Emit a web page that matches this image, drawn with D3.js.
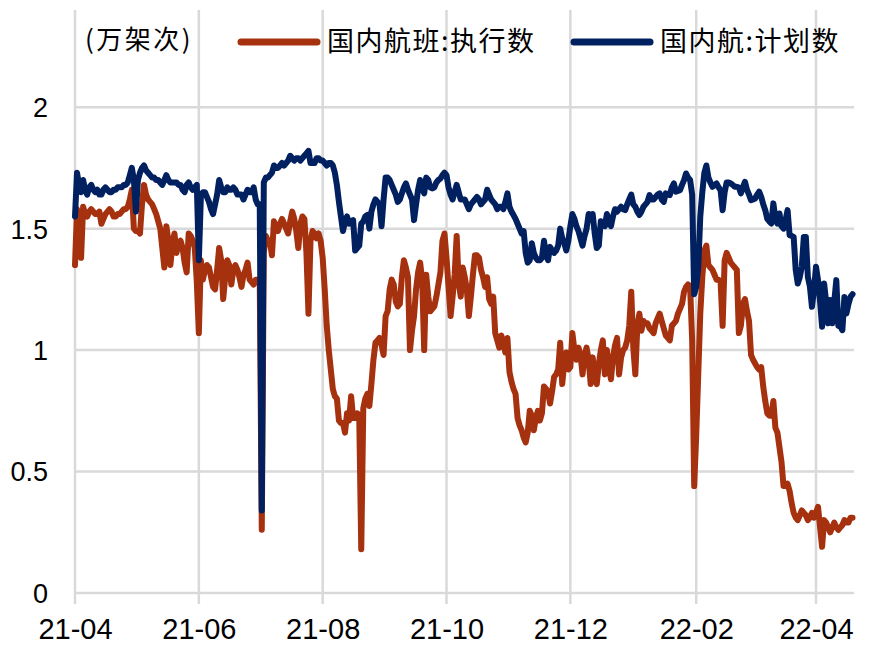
<!DOCTYPE html>
<html>
<head>
<meta charset="utf-8">
<script src="https://cdn.jsdelivr.net/npm/d3@7"></script>
<style>
  html, body { margin: 0; padding: 0; background: #fff; }
  svg { display: block; }
</style>
</head>
<body>
<svg id="chart" width="877" height="659"></svg>
<script>
// ---- data (daily, starting 2021-04-01) ----
const startDate = "2021-04-01";
const seriesNames = ["国内航班:执行数", "国内航:计划数"];
const unitLabel = "(万架次)";
const yTicks = [0, 0.5, 1, 1.5, 2];
const xTickDates = ["2021-04-01", "2021-06-01", "2021-08-01", "2021-10-01", "2021-12-01", "2022-02-01", "2022-04-01"];
const xTickLabels = ["21-04", "21-06", "21-08", "21-10", "21-12", "22-02", "22-04"];

// 国内航班:执行数
const executed = [
  1.35,1.58,1.55,1.38,1.59,1.56,1.55,1.57,1.58,1.57,
  1.56,1.56,1.57,1.52,1.54,1.56,1.57,1.58,1.57,1.55,
  1.55,1.56,1.56,1.57,1.58,1.58,1.59,1.62,1.66,1.50,
  1.49,1.49,1.48,1.60,1.68,1.64,1.62,1.61,1.60,1.58,
  1.56,1.53,1.50,1.42,1.34,1.51,1.45,1.35,1.44,1.48,
  1.40,1.44,1.45,1.42,1.36,1.32,1.48,1.47,1.45,1.42,
  1.28,1.07,1.37,1.29,1.33,1.35,1.34,1.30,1.26,1.25,
  1.33,1.42,1.37,1.21,1.30,1.37,1.35,1.27,1.33,1.35,
  1.33,1.30,1.26,1.31,1.33,1.36,1.29,1.28,1.27,1.29,
  1.29,1.28,0.26,1.40,1.47,1.45,1.45,1.39,1.53,1.51,
  1.49,1.52,1.54,1.52,1.50,1.48,1.53,1.57,1.54,1.49,
  1.42,1.52,1.55,1.54,1.40,1.15,1.45,1.49,1.48,1.46,
  1.48,1.45,1.38,1.25,1.10,1.00,0.92,0.84,0.81,0.80,
  0.71,0.70,0.70,0.66,0.74,0.71,0.81,0.72,0.72,0.74,
  0.73,0.18,0.76,0.80,0.82,0.77,0.86,0.96,1.03,1.04,
  1.05,1.02,0.98,1.14,1.16,1.25,1.29,1.27,1.20,1.18,
  1.19,1.30,1.37,1.34,1.30,1.00,1.08,1.14,1.25,1.32,
  1.36,1.29,1.00,1.31,1.22,1.16,1.17,1.18,1.22,1.27,
  1.32,1.45,1.48,1.38,1.26,1.14,1.22,1.31,1.47,1.28,
  1.22,1.34,1.30,1.25,1.14,1.22,1.31,1.39,1.39,1.38,
  1.33,1.30,1.26,1.30,1.21,1.19,1.22,1.07,1.04,1.01,
  1.06,1.03,0.99,1.05,0.91,0.87,0.84,0.82,0.72,0.69,
  0.67,0.64,0.62,0.66,0.75,0.73,0.67,0.72,0.75,0.71,
  0.74,0.85,0.84,0.83,0.78,0.83,0.89,0.90,0.92,1.03,
  0.86,0.95,0.99,0.92,0.93,1.07,1.00,0.96,1.01,0.98,
  0.90,0.98,1.01,0.96,0.86,0.97,0.90,0.86,0.94,1.00,
  1.04,0.90,1.00,0.93,0.88,0.97,1.02,1.05,0.90,0.97,
  1.00,1.01,1.04,1.10,1.24,1.01,0.90,1.10,1.15,1.08,
  1.12,1.11,1.11,1.09,1.08,1.07,1.11,1.13,1.15,1.12,
  1.09,1.06,1.05,1.04,1.10,1.11,1.12,1.15,1.17,1.19,
  1.24,1.26,1.27,1.26,1.04,0.44,0.65,0.90,1.15,1.30,
  1.41,1.43,1.35,1.34,1.33,1.31,1.29,1.29,1.28,1.10,
  1.37,1.40,1.38,1.36,1.35,1.34,1.33,1.07,1.10,1.19,
  1.21,1.16,1.12,0.98,0.96,0.945,0.93,0.92,0.93,0.85,
  0.79,0.74,0.73,0.73,0.79,0.68,0.66,0.60,0.54,0.44,
  0.44,0.45,0.42,0.37,0.33,0.31,0.30,0.32,0.34,0.33,
  0.32,0.30,0.31,0.33,0.31,0.33,0.355,0.27,0.19,0.30,
  0.29,0.27,0.25,0.27,0.29,0.27,0.26,0.27,0.28,0.30,
  0.29,0.29,0.31,0.31
];

// 国内航:计划数
const planned = [
  1.55,1.73,1.68,1.65,1.70,1.66,1.64,1.67,1.68,1.66,
  1.65,1.66,1.64,1.64,1.66,1.67,1.66,1.65,1.65,1.66,
  1.66,1.67,1.67,1.67,1.68,1.68,1.69,1.72,1.75,1.70,
  1.57,1.70,1.73,1.75,1.76,1.74,1.73,1.72,1.71,1.71,
  1.70,1.70,1.69,1.68,1.70,1.72,1.70,1.69,1.69,1.69,
  1.69,1.68,1.68,1.66,1.65,1.68,1.69,1.67,1.66,1.67,
  1.68,1.37,1.63,1.65,1.65,1.63,1.61,1.58,1.56,1.60,
  1.64,1.70,1.67,1.65,1.65,1.67,1.66,1.66,1.67,1.66,
  1.64,1.64,1.64,1.62,1.64,1.66,1.65,1.65,1.67,1.62,
  1.60,1.60,0.34,1.69,1.71,1.71,1.72,1.73,1.76,1.75,
  1.75,1.76,1.77,1.76,1.77,1.78,1.80,1.79,1.78,1.79,
  1.79,1.78,1.79,1.80,1.81,1.82,1.77,1.77,1.77,1.79,
  1.79,1.78,1.78,1.77,1.76,1.77,1.77,1.76,1.73,1.68,
  1.61,1.55,1.49,1.53,1.55,1.52,1.53,1.535,1.41,1.42,
  1.43,1.52,1.53,1.55,1.556,1.50,1.57,1.60,1.62,1.61,
  1.60,1.51,1.62,1.71,1.71,1.70,1.68,1.66,1.64,1.61,
  1.62,1.645,1.67,1.686,1.66,1.64,1.62,1.535,1.60,1.66,
  1.70,1.67,1.645,1.71,1.70,1.67,1.665,1.67,1.69,1.70,
  1.706,1.72,1.73,1.72,1.67,1.64,1.62,1.65,1.68,1.65,
  1.62,1.62,1.62,1.60,1.58,1.60,1.61,1.62,1.63,1.62,
  1.60,1.61,1.62,1.66,1.64,1.62,1.61,1.60,1.58,1.59,
  1.59,1.58,1.61,1.645,1.59,1.57,1.556,1.54,1.52,1.50,
  1.48,1.49,1.40,1.36,1.37,1.44,1.40,1.38,1.37,1.37,
  1.38,1.45,1.39,1.37,1.425,1.41,1.40,1.41,1.43,1.50,
  1.46,1.44,1.41,1.45,1.51,1.56,1.54,1.51,1.49,1.46,
  1.43,1.47,1.50,1.56,1.556,1.56,1.48,1.42,1.43,1.53,
  1.52,1.51,1.56,1.53,1.51,1.55,1.58,1.57,1.58,1.59,
  1.58,1.576,1.60,1.62,1.64,1.60,1.59,1.57,1.556,1.57,
  1.59,1.60,1.61,1.638,1.62,1.62,1.63,1.64,1.645,1.62,
  1.61,1.645,1.64,1.638,1.67,1.686,1.652,1.655,1.658,1.68,
  1.70,1.727,1.71,1.70,1.64,1.23,1.26,1.34,1.55,1.65,
  1.73,1.76,1.71,1.69,1.672,1.68,1.686,1.67,1.658,1.576,
  1.65,1.69,1.69,1.686,1.68,1.672,1.672,1.67,1.645,1.67,
  1.693,1.66,1.64,1.617,1.62,1.624,1.64,1.652,1.631,1.60,
  1.576,1.54,1.53,1.521,1.604,1.54,1.521,1.562,1.51,1.50,
  1.535,1.576,1.473,1.47,1.466,1.33,1.274,1.30,1.343,1.466,
  1.466,1.30,1.261,1.178,1.247,1.343,1.288,1.20,1.096,1.274,
  1.20,1.11,1.206,1.11,1.20,1.288,1.10,1.096,1.082,1.219,
  1.151,1.19,1.219,1.23
];

const seriesColors = ["#A6310F", "#002060"];

// ---- chart ----
const svg = d3.select("#chart");
const parse = d3.timeParse("%Y-%m-%d");
const t0 = parse(startDate);
const dates = executed.map((_, i) => d3.timeDay.offset(t0, i));

const x = d3.scaleTime()
  .domain([parse("2021-04-01"), parse("2022-04-01")])
  .range([75, 816]);
const y = d3.scaleLinear().domain([0, 2.4]).range([593, 10]);

const gridColor = "#d9d9d9";
const plotRight = 854;

// horizontal gridlines
svg.append("g").selectAll("line").data(yTicks).join("line")
  .attr("x1", 75).attr("x2", plotRight)
  .attr("y1", d => y(d)).attr("y2", d => y(d))
  .attr("stroke", gridColor).attr("stroke-width", 2.5);

// vertical gridlines (x ticks)
const tickDates = xTickDates.map(parse);
svg.append("g").selectAll("line").data(tickDates).join("line")
  .attr("x1", d => x(d)).attr("x2", d => x(d))
  .attr("y1", 10).attr("y2", 604)
  .attr("stroke", gridColor).attr("stroke-width", 2.5);

// y-axis labels
const yAxis = d3.axisLeft(y).tickValues(yTicks).tickSize(0).tickPadding(0)
  .tickFormat(d => d3.format("")(d));
const gy = svg.append("g").attr("transform", "translate(48,0)").call(yAxis);
gy.select(".domain").remove();
gy.selectAll("text")
  .attr("font-family", "'Liberation Sans', Arial, sans-serif")
  .attr("font-size", 27).attr("fill", "#000").attr("dy", "0.35em");

// x-axis labels
const xAxis = d3.axisBottom(x).tickValues(tickDates).tickSize(0).tickPadding(0)
  .tickFormat((d, i) => xTickLabels[i]);
const gx = svg.append("g").attr("transform", "translate(0,639)").call(xAxis);
gx.select(".domain").remove();
gx.selectAll("text")
  .attr("font-family", "'Liberation Sans', Arial, sans-serif")
  .attr("font-size", 29).attr("fill", "#000").attr("dy", 0);

// series lines
const line = d3.line().x((d, i) => x(dates[i])).y(d => y(d));
[executed, planned].forEach((vals, k) => {
  svg.append("path")
    .datum(vals)
    .attr("d", line)
    .attr("fill", "none")
    .attr("stroke", seriesColors[k])
    .attr("stroke-width", 6)
    .attr("stroke-linejoin", "round")
    .attr("stroke-linecap", "round");
});

// unit label & legend
const cjkFont = "'Noto Sans CJK SC', 'Noto Sans', sans-serif";
svg.append("text").attr("x", 85).attr("y", 49)
  .attr("font-family", cjkFont).attr("font-size", 26).attr("fill", "#000")
  .attr("letter-spacing", 2.5)
  .text(unitLabel);

const legendItems = [
  { x1: 241, x2: 317, tx: 327 },
  { x1: 574, x2: 650, tx: 660 }
];
legendItems.forEach((it, k) => {
  svg.append("line").attr("x1", it.x1).attr("x2", it.x2).attr("y1", 42).attr("y2", 42)
    .attr("stroke", seriesColors[k]).attr("stroke-width", 7).attr("stroke-linecap", "round");
  svg.append("text").attr("x", it.tx).attr("y", 51)
    .attr("font-family", cjkFont).attr("font-size", 27).attr("fill", "#000")
    .attr("letter-spacing", 1.5)
    .text(seriesNames[k]);
});
</script>
</body>
</html>
